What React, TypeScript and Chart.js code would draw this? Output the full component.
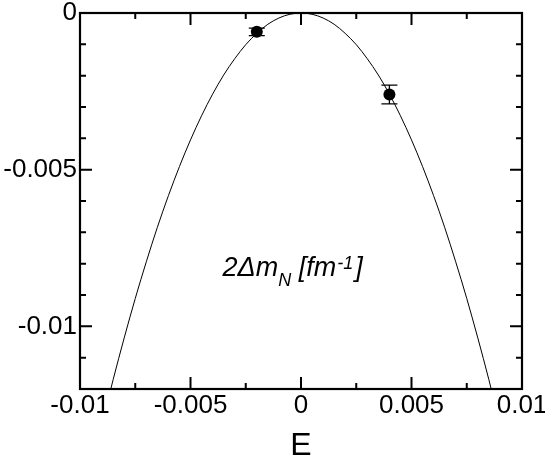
import React, { useEffect, useRef } from "react";
import { Chart, registerables } from "chart.js";

Chart.register(...registerables);

const X_MIN = -0.01;
const X_MAX = 0.01;
const Y_MIN = -0.012;
const Y_MAX = 0;

const X_MAJOR = [-0.01, -0.005, 0, 0.005, 0.01];
const X_LABELS = ["-0.01", "-0.005", "0", "0.005", "0.01"];
const X_MINOR = [-0.0075, -0.0025, 0.0025, 0.0075];
const Y_MAJOR = [0, -0.005, -0.01];
const Y_LABELS = ["0", "-0.005", "-0.01"];
const Y_MINOR = [-0.001, -0.002, -0.003, -0.004, -0.006, -0.007, -0.008, -0.009, -0.011];

const POINT_E = [-0.002, 0.004];
const POINT_M = [-0.0006, -0.0026];
const POINT_ERR = [0.00012, 0.0003];

const CURVE_E = [
  -0.009, -0.0085, -0.008, -0.0075, -0.007, -0.0065, -0.006, -0.0055, -0.005, -0.0045,
  -0.004, -0.0035, -0.003, -0.0025, -0.002, -0.0015, -0.001, -0.0005, 0,
  0.0005, 0.001, 0.0015, 0.002, 0.0025, 0.003, 0.0035, 0.004, 0.0045, 0.005,
  0.0055, 0.006, 0.0065, 0.007, 0.0075, 0.008, 0.0085, 0.009,
];
const CURVE_M = [
  -0.01312, -0.0117, -0.01037, -0.00911, -0.00794, -0.00684, -0.00583, -0.0049, -0.00405, -0.00328,
  -0.00259, -0.00198, -0.00146, -0.00101, -0.00065, -0.00036, -0.00016, -0.00004, 0,
  -0.00004, -0.00016, -0.00036, -0.00065, -0.00101, -0.00146, -0.00198, -0.00259, -0.00328, -0.00405,
  -0.0049, -0.00583, -0.00684, -0.00794, -0.00911, -0.01037, -0.0117, -0.01312,
];

const FONT = "'Liberation Sans', Arial, Helvetica, sans-serif";

const framePlugin = {
  id: "frameTicks",
  beforeDatasetsDraw(chart: any) {
    const ctx = chart.ctx;
    const xs = chart.scales.x;
    const ys = chart.scales.y;
    ctx.save();
    ctx.strokeStyle = "#000";
    ctx.lineWidth = 1.3;
    for (let i = 0; i < POINT_E.length; i++) {
      const px = xs.getPixelForValue(POINT_E[i]);
      const y1 = ys.getPixelForValue(POINT_M[i] + POINT_ERR[i]);
      const y2 = ys.getPixelForValue(POINT_M[i] - POINT_ERR[i]);
      ctx.beginPath();
      ctx.moveTo(px, y1);
      ctx.lineTo(px, y2);
      ctx.moveTo(px - 8, y1);
      ctx.lineTo(px + 8, y1);
      ctx.moveTo(px - 8, y2);
      ctx.lineTo(px + 8, y2);
      ctx.stroke();
    }
    ctx.restore();
  },
  afterDraw(chart: any) {
    const ctx = chart.ctx;
    const a = chart.chartArea;
    const xs = chart.scales.x;
    const ys = chart.scales.y;
    ctx.save();
    ctx.strokeStyle = "#000";
    ctx.lineWidth = 2;
    ctx.lineCap = "butt";
    const drawX = (vals: number[], len: number) => {
      vals.forEach((v) => {
        const p = xs.getPixelForValue(v);
        ctx.beginPath();
        ctx.moveTo(p, a.bottom);
        ctx.lineTo(p, a.bottom - len);
        ctx.moveTo(p, a.top);
        ctx.lineTo(p, a.top + len);
        ctx.stroke();
      });
    };
    const drawY = (vals: number[], len: number) => {
      vals.forEach((v) => {
        const p = ys.getPixelForValue(v);
        ctx.beginPath();
        ctx.moveTo(a.left, p);
        ctx.lineTo(a.left + len, p);
        ctx.moveTo(a.right, p);
        ctx.lineTo(a.right - len, p);
        ctx.stroke();
      });
    };
    drawX(X_MAJOR, 12);
    drawX(X_MINOR, 6);
    drawY(Y_MAJOR, 12);
    drawY(Y_MINOR, 6);
    ctx.lineWidth = 2.2;
    ctx.strokeRect(a.left, a.top, a.right - a.left, a.bottom - a.top);

    // annotation
    const tx = xs.getPixelForValue(-0.00355);
    const ty = ys.getPixelForValue(-0.0084);
    ctx.fillStyle = "#000";
    ctx.textBaseline = "alphabetic";
    ctx.textAlign = "left";
    const big = "italic 27px " + FONT;
    const small = "italic 18px " + FONT;
    let cx = tx;
    ctx.font = big;
    ctx.fillText("2\u0394m", cx, ty);
    cx += ctx.measureText("2\u0394m").width;
    ctx.font = small;
    ctx.fillText("N", cx, ty + 10);
    cx += ctx.measureText("N").width;
    ctx.font = big;
    ctx.fillText(" [fm", cx, ty);
    cx += ctx.measureText(" [fm").width;
    ctx.font = small;
    ctx.fillText("-1", cx + 1, ty - 7);
    cx += ctx.measureText("-1").width + 3;
    ctx.font = big;
    ctx.fillText("]", cx, ty);
    ctx.restore();
  },
};

export default function App() {
  const ref = useRef<HTMLCanvasElement | null>(null);
  useEffect(() => {
    if (!ref.current) return;
    const chart = new Chart(ref.current, {
      type: "scatter",
      data: {
        datasets: [
          {
            type: "line",
            data: CURVE_E.map((x, i) => ({ x, y: CURVE_M[i] })),
            borderColor: "#000",
            borderWidth: 1,
            pointRadius: 0,
            fill: false,
            cubicInterpolationMode: "monotone",
          } as any,
          {
            type: "scatter",
            data: POINT_E.map((x, i) => ({ x, y: POINT_M[i] })),
            backgroundColor: "#000",
            borderColor: "#000",
            pointRadius: 6,
            borderWidth: 0,
          },
        ],
      },
      options: {
        animation: false,
        responsive: false,
        maintainAspectRatio: false,
        layout: { padding: { top: 13, right: 23, left: 0, bottom: 0 } },
        plugins: { legend: { display: false }, tooltip: { enabled: false } },
        scales: {
          x: {
            type: "linear",
            min: X_MIN,
            max: X_MAX,
            grid: { display: false, drawTicks: false },
            border: { display: false },
            afterBuildTicks: (s: any) => {
              s.ticks = X_MAJOR.map((v) => ({ value: v }));
            },
            afterFit: (s: any) => {
              s.height = 72;
              s.paddingLeft = 0;
              s.paddingRight = 0;
            },
            ticks: {
              autoSkip: false,
              maxRotation: 0,
              padding: 3.5,
              color: "#000",
              font: { family: FONT, size: 26, lineHeight: 1 },
              callback: (_v: any, i: number) => X_LABELS[i],
            },
            title: {
              display: true,
              text: "E",
              color: "#000",
              font: { family: FONT, size: 32, lineHeight: 1 },
              padding: { top: 0, bottom: -1 },
            },
          },
          y: {
            type: "linear",
            min: Y_MIN,
            max: Y_MAX,
            grid: { display: false, drawTicks: false },
            border: { display: false },
            afterBuildTicks: (s: any) => {
              s.ticks = Y_MAJOR.map((v) => ({ value: v }));
            },
            afterFit: (s: any) => {
              s.width = 80;
              s.paddingTop = 0;
              s.paddingBottom = 0;
            },
            ticks: {
              autoSkip: false,
              padding: 3,
              color: "#000",
              font: { family: FONT, size: 26, lineHeight: 1 },
              callback: (_v: any, i: number) => Y_LABELS[i],
            },
          },
        },
      },
      plugins: [framePlugin],
    } as any);
    return () => chart.destroy();
  }, []);
  return (
    <div style={{ position: "absolute", left: 0, top: 0, width: 545, height: 461, background: "#fff" }}>
      <canvas ref={ref} width={545} height={461} style={{ display: "block" }} />
    </div>
  );
}
